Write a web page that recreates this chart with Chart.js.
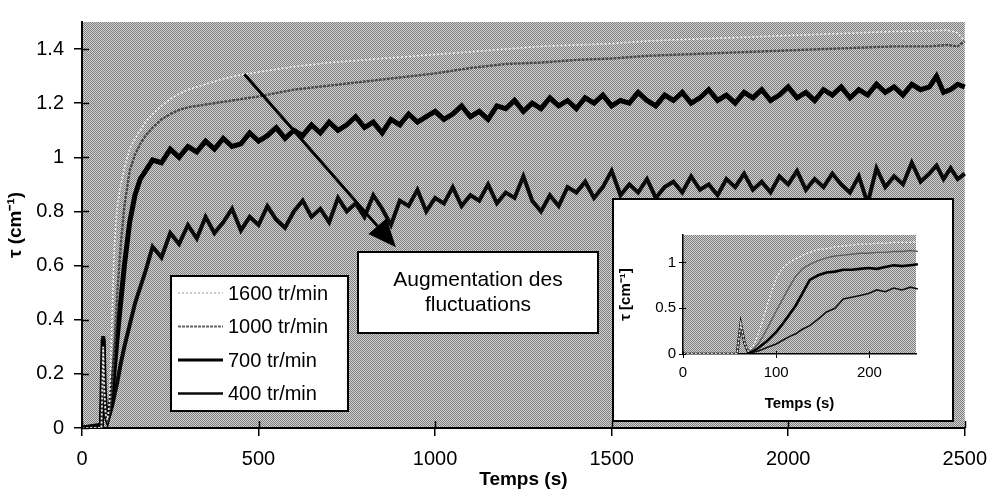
<!DOCTYPE html>
<html>
<head>
<meta charset="utf-8">
<script src="https://cdn.jsdelivr.net/npm/chart.js@4.4.1/dist/chart.umd.min.js"></script>
<style>
html, body { margin: 0; padding: 0; background: #fff; }
#wrap { position: relative; width: 998px; height: 497px; }
canvas { display: block; }
#inset { position: absolute; left: 612px; top: 198px; width: 342px; height: 224px;
         box-sizing: border-box; border: 2px solid #000; background: #fff; }
</style>
</head>
<body>
<div id="wrap">
  <canvas id="mainChart" width="998" height="497"></canvas>
  <div id="inset"><canvas id="insetChart" width="338" height="220"></canvas></div>
</div>
<script>
// ---- main chart data ----
var seriesLabels = ['1600 tr/min', '1000 tr/min', '700 tr/min', '400 tr/min'];

var timeSmooth = [0,55,60,63,67,72,78,85,90,95,100,110,120,135,150,165,180,200,225,250,275,
  300,350,400,450,500,600,700,800,900,1000,1100,1200,1300,1400,1500,1600,1700,1800,1900,
  2000,2100,2200,2300,2400,2450,2480,2500,2510];

var tau1600 = [0,0,0.3,0.14,0.05,0.03,0.1,0.4,0.62,0.74,0.82,0.9,0.96,1.03,1.07,1.1,1.13,1.16,1.19,1.215,1.235,
  1.25,1.27,1.29,1.305,1.315,1.335,1.35,1.36,1.37,1.38,1.39,1.4,1.41,1.415,1.42,1.43,1.435,1.44,1.445,
  1.45,1.455,1.46,1.465,1.467,1.47,1.46,1.43,1.41];

var tau1000 = [0,0,0.3,0.14,0.05,0.03,0.06,0.17,0.27,0.38,0.5,0.68,0.82,0.95,1.01,1.05,1.08,1.11,1.14,1.16,1.175,
  1.185,1.195,1.205,1.215,1.225,1.25,1.265,1.28,1.295,1.31,1.33,1.345,1.35,1.36,1.365,1.375,1.38,1.385,1.39,
  1.395,1.4,1.405,1.41,1.41,1.415,1.41,1.43,1.3];

var timeNoisy = [0,55,60,63,67,72,78,85,90,95,100,110,120,135,150,165,180,200,225,250,275,
  300,325,350,375,400,425,450,475,500,525,550,575,600,625,650,675,700,725,750,775,
  800,825,850,875,900,925,950,975,1000,1025,1050,1075,1100,1125,1150,1175,1200,1225,1250,1275,
  1300,1325,1350,1375,1400,1425,1450,1475,1500,1525,1550,1575,1600,1625,1650,1675,1700,1725,1750,1775,
  1800,1825,1850,1875,1900,1925,1950,1975,2000,2025,2050,2075,2100,2125,2150,2175,2200,2225,2250,2275,
  2300,2325,2350,2375,2400,2420,2440,2460,2480,2500,2515];

var tau700 = [0,0.01,0.33,0.14,0.05,0.03,0.06,0.13,0.2,0.27,0.34,0.47,0.6,0.76,0.86,0.92,0.95,0.99,0.98,1.03,1.0,
  1.04,1.02,1.06,1.03, 1.07,1.04,1.05,1.09, 1.06,1.08,1.11,1.07, 1.10,1.08,1.12,1.09, 1.13,1.10,1.12,1.15,
  1.11,1.13,1.09,1.14, 1.12,1.16,1.13,1.15, 1.17,1.14,1.16,1.19, 1.15,1.17,1.14,1.19, 1.18,1.21,1.17,1.20,
  1.18,1.22,1.19,1.21, 1.18,1.22,1.20,1.23, 1.19,1.21,1.20,1.24, 1.21,1.19,1.23,1.21, 1.24,1.20,1.22,1.25,
  1.21,1.23,1.20,1.24, 1.22,1.25,1.21,1.23, 1.26,1.22,1.24,1.21, 1.25,1.23,1.26,1.22, 1.25,1.23,1.27,1.24,
  1.26,1.23,1.27,1.25, 1.26, 1.30,1.24,1.25,1.27,1.26,1.27];

var tau400 = [0,0.01,0.34,0.14,0.05,0.03,0.05,0.08,0.11,0.14,0.17,0.24,0.3,0.38,0.46,0.52,0.58,0.67,0.63,0.72,0.68,
  0.75,0.70,0.78,0.72, 0.76,0.81,0.73,0.78, 0.75,0.82,0.77,0.74, 0.80,0.84,0.78,0.81, 0.76,0.85,0.80,0.83,
  0.78,0.86,0.81,0.75, 0.84,0.82,0.88,0.80, 0.85,0.83,0.89,0.82, 0.86,0.84,0.90,0.83, 0.87,0.85,0.93,0.84,
  0.80,0.86,0.82,0.89, 0.87,0.91,0.85,0.89, 0.95,0.86,0.90,0.87, 0.92,0.85,0.89,0.91, 0.87,0.93,0.88,0.90,
  0.86,0.92,0.89,0.94, 0.88,0.91,0.87,0.93, 0.90,0.95,0.88,0.92, 0.89,0.94,0.90,0.87, 0.93,0.83,0.96,0.89,
  0.93,0.90,0.98,0.91, 0.94, 0.97,0.92,0.96,0.92,0.94,0.93];

var xTicks = [0, 500, 1000, 1500, 2000, 2500];
var yTicks = [0, 0.2, 0.4, 0.6, 0.8, 1, 1.2, 1.4];
var yTickLabels = ['0', '0.2', '0.4', '0.6', '0.8', '1', '1.2', '1.4'];

// ---- inset data ----
var insetTime = [0,20,40,58,62,66,70,75,80,85,90,95,100,107,114,121,128,136,145,154,163,172,181,190,199,208,217,226,235,244,252,258];
var inset1600 = [0,0,0,0,0.33,0.12,0.03,0.08,0.2,0.35,0.52,0.68,0.83,0.94,1.0,1.04,1.08,1.11,1.14,1.15,1.17,1.18,1.19,1.2,1.2,1.21,1.21,1.22,1.22,1.22,1.23,1.22];
var inset1000 = [0,0,0,0,0.33,0.12,0.03,0.05,0.1,0.18,0.27,0.37,0.47,0.6,0.73,0.85,0.93,0.98,1.02,1.05,1.07,1.08,1.09,1.1,1.1,1.11,1.11,1.12,1.12,1.13,1.12,1.14];
var inset700  = [0,0,0,0,0.33,0.12,0.02,0.03,0.06,0.1,0.14,0.19,0.24,0.33,0.43,0.53,0.66,0.81,0.86,0.89,0.9,0.92,0.92,0.93,0.94,0.93,0.95,0.97,0.96,0.97,0.98,1.0];
var inset400  = [0,0,0,0,0.33,0.12,0.02,0.02,0.03,0.05,0.07,0.09,0.11,0.15,0.19,0.22,0.27,0.31,0.38,0.46,0.5,0.6,0.62,0.64,0.66,0.7,0.68,0.72,0.7,0.73,0.71,0.68];
var insetXTicks = [0, 100, 200];
var insetYTicks = [0, 0.5, 1];
var insetYTickLabels = ['0', '0.5', '1'];

// annotation in data units
var arrowFrom = { x: 460, y: 1.307 };
var arrowTo = { x: 889, y: 0.668 };
var noteLines = ['Augmentation des', 'fluctuations'];

function pairs(xs, ys) {
  return xs.map(function (x, i) { return { x: x, y: ys[i] }; });
}

Chart.defaults.font.family = '"Liberation Sans", Arial, sans-serif';
Chart.defaults.color = '#000';

// halftone-like grey for the plot area
function makeDither(ctx) {
  var c = document.createElement('canvas');
  c.width = 2; c.height = 2;
  var g = c.getContext('2d');
  g.fillStyle = '#d2d2d2'; g.fillRect(0, 0, 2, 2);
  g.fillStyle = '#7e7e7e'; g.fillRect(0, 0, 1, 1); g.fillRect(1, 1, 1, 1);
  return ctx.createPattern(c, 'repeat');
}

var plotBg = {
  id: 'plotBg',
  beforeDraw: function (chart) {
    var a = chart.chartArea, ctx = chart.ctx;
    ctx.save();
    ctx.fillStyle = makeDither(ctx);
    ctx.fillRect(a.left, a.top, a.right - a.left, a.bottom - a.top);
    ctx.restore();
  }
};

// tick marks that cross the axis line
var crossTicks = {
  id: 'crossTicks',
  afterDatasetsDraw: function (chart, args, opts) {
    var ctx = chart.ctx, a = chart.chartArea, len = opts.len || 7;
    var xs = chart.scales.x, ys = chart.scales.y;
    ctx.save();
    ctx.strokeStyle = '#000';
    ctx.lineWidth = opts.width || 1.5;
    ctx.beginPath();
    xs.ticks.forEach(function (t) {
      var px = Math.round(xs.getPixelForValue(t.value)) + 0.5;
      ctx.moveTo(px, a.bottom); ctx.lineTo(px, a.bottom - len);
    });
    ys.ticks.forEach(function (t) {
      var py = Math.round(ys.getPixelForValue(t.value)) + 0.5;
      ctx.moveTo(a.left, py); ctx.lineTo(a.left + len, py);
    });
    ctx.stroke();
    ctx.restore();
  }
};

// arrow, text box and legend of the main chart
var notes = {
  id: 'notes',
  afterDraw: function (chart) {
    var ctx = chart.ctx, xs = chart.scales.x, ys = chart.scales.y;
    var x0 = xs.getPixelForValue(arrowFrom.x), y0 = ys.getPixelForValue(arrowFrom.y);
    var x1 = xs.getPixelForValue(arrowTo.x), y1 = ys.getPixelForValue(arrowTo.y);
    var ang = Math.atan2(y1 - y0, x1 - x0), hl = 28, hw = 12;
    var bx = x1 - hl * Math.cos(ang), by = y1 - hl * Math.sin(ang);
    ctx.save();
    ctx.strokeStyle = '#000'; ctx.fillStyle = '#000'; ctx.lineWidth = 3;
    ctx.beginPath(); ctx.moveTo(x0, y0); ctx.lineTo(bx, by); ctx.stroke();
    ctx.beginPath();
    ctx.moveTo(x1, y1);
    ctx.lineTo(bx + hw * Math.sin(ang), by - hw * Math.cos(ang));
    ctx.lineTo(bx - hw * Math.sin(ang), by + hw * Math.cos(ang));
    ctx.closePath(); ctx.fill();

    // text box
    ctx.fillStyle = '#fff';
    ctx.fillRect(358, 252, 240, 81);
    ctx.lineWidth = 2; ctx.strokeRect(358, 252, 240, 81);
    ctx.fillStyle = '#000';
    ctx.font = '21px "Liberation Sans", Arial, sans-serif';
    ctx.textAlign = 'center'; ctx.textBaseline = 'middle';
    ctx.fillText(noteLines[0], 478, 280);
    ctx.fillText(noteLines[1], 478, 305);

    // legend
    ctx.fillStyle = '#fff';
    ctx.fillRect(171, 276, 177, 135);
    ctx.strokeRect(171, 276, 177, 135);
    ctx.textAlign = 'left';
    ctx.font = '20px "Liberation Sans", Arial, sans-serif';
    chart.data.datasets.forEach(function (ds, i) {
      var y = 293 + i * 33.5;
      ctx.save();
      ctx.strokeStyle = ds.legendColor || ds.borderColor;
      ctx.lineWidth = ds.legendWidth || ds.borderWidth;
      ctx.setLineDash(ds.borderDash || []);
      ctx.beginPath(); ctx.moveTo(178, y); ctx.lineTo(223, y); ctx.stroke();
      ctx.restore();
      ctx.fillStyle = '#000';
      ctx.fillText(ds.label, 228, y + 1);
    });
    ctx.restore();
  }
};

var lineClip = { left: 0, top: 0, right: 8, bottom: 0 };

new Chart(document.getElementById('mainChart'), {
  type: 'line',
  data: {
    datasets: [
      { label: seriesLabels[0], data: pairs(timeSmooth, tau1600), borderColor: '#f0f0f0', borderWidth: 1.6,
        borderDash: [2, 2], legendColor: '#9a9a9a', legendWidth: 1.2 },
      { label: seriesLabels[1], data: pairs(timeSmooth, tau1000), borderColor: '#4a4a4a', borderWidth: 2.4,
        borderDash: [3, 1], legendColor: '#666666', legendWidth: 2 },
      { label: seriesLabels[2], data: pairs(timeNoisy, tau700), borderColor: '#000000', borderWidth: 5,
        legendWidth: 3 },
      { label: seriesLabels[3], data: pairs(timeNoisy, tau400), borderColor: '#0a0a0a', borderWidth: 4,
        legendWidth: 2.5 }
    ]
  },
  options: {
    responsive: false,
    animation: false,
    layout: { padding: { top: 5, right: 30, left: 0, bottom: 0 } },
    elements: { point: { radius: 0 }, line: { tension: 0 } },
    datasets: { line: { clip: lineClip } },
    plugins: {
      legend: { display: false },
      tooltip: { enabled: false },
      crossTicks: { len: 7, width: 1.5 }
    },
    scales: {
      x: {
        type: 'linear', min: 0, max: 2500,
        afterBuildTicks: function (s) { s.ticks = xTicks.map(function (v) { return { value: v }; }); },
        afterFit: function (s) { s.height = 69; },
        grid: { drawOnChartArea: false, tickLength: 8, color: '#000', lineWidth: 1.5 },
        border: { color: '#000', width: 2 },
        ticks: { font: { size: 20 }, padding: 11, maxRotation: 0, callback: function (v) { return String(v); } },
        title: { display: true, text: 'Temps (s)', font: { size: 19, weight: 'bold' }, padding: { top: 0, bottom: 6 } }
      },
      y: {
        type: 'linear', min: 0, max: 1.5,
        afterBuildTicks: function (s) { s.ticks = yTicks.map(function (v) { return { value: v }; }); },
        afterFit: function (s) { s.width = 82; },
        grid: { drawOnChartArea: false, tickLength: 8, color: '#000', lineWidth: 1.5 },
        border: { color: '#000', width: 2 },
        ticks: { font: { size: 20 }, padding: 10, callback: function (v, i) { return yTickLabels[i]; } },
        title: { display: true, text: 'τ (cm⁻¹)', font: { size: 19, weight: 'bold' }, padding: { top: 4, bottom: 0 } }
      }
    }
  },
  plugins: [plotBg, crossTicks, notes]
});

new Chart(document.getElementById('insetChart'), {
  type: 'line',
  data: {
    datasets: [
      { label: seriesLabels[0], data: pairs(insetTime, inset1600), borderColor: '#f2f2f2', borderWidth: 1.3, borderDash: [2, 2] },
      { label: seriesLabels[1], data: pairs(insetTime, inset1000), borderColor: '#5e5e5e', borderWidth: 1.4 },
      { label: seriesLabels[2], data: pairs(insetTime, inset700), borderColor: '#000', borderWidth: 2.6 },
      { label: seriesLabels[3], data: pairs(insetTime, inset400), borderColor: '#111', borderWidth: 1.6 }
    ]
  },
  options: {
    responsive: false,
    animation: false,
    layout: { padding: { top: 35, right: 36, left: 0, bottom: 0 } },
    elements: { point: { radius: 0 }, line: { tension: 0 } },
    datasets: { line: { clip: lineClip } },
    plugins: {
      legend: { display: false },
      tooltip: { enabled: false },
      crossTicks: { len: 3, width: 1 }
    },
    scales: {
      x: {
        type: 'linear', min: 0, max: 250,
        afterBuildTicks: function (s) { s.ticks = insetXTicks.map(function (v) { return { value: v }; }); },
        afterFit: function (s) { s.height = 66; },
        grid: { drawOnChartArea: false, tickLength: 4, color: '#000', lineWidth: 1 },
        border: { color: '#000', width: 1.5 },
        ticks: { font: { size: 15 }, padding: 6, maxRotation: 0, callback: function (v) { return String(v); } },
        title: { display: true, text: 'Temps (s)', font: { size: 15, weight: 'bold' }, padding: { top: 0, bottom: 7 } }
      },
      y: {
        type: 'linear', min: 0, max: 1.3,
        afterBuildTicks: function (s) { s.ticks = insetYTicks.map(function (v) { return { value: v }; }); },
        afterFit: function (s) { s.width = 69; },
        grid: { drawOnChartArea: false, tickLength: 4, color: '#000', lineWidth: 1 },
        border: { color: '#000', width: 1.5 },
        ticks: { font: { size: 15 }, padding: 3, callback: function (v, i) { return insetYTickLabels[i]; } },
        title: { display: true, text: 'τ [cm⁻¹]', font: { size: 15, weight: 'bold' }, padding: { top: 3, bottom: 0 } }
      }
    }
  },
  plugins: [plotBg, crossTicks]
});
</script>
</body>
</html>
